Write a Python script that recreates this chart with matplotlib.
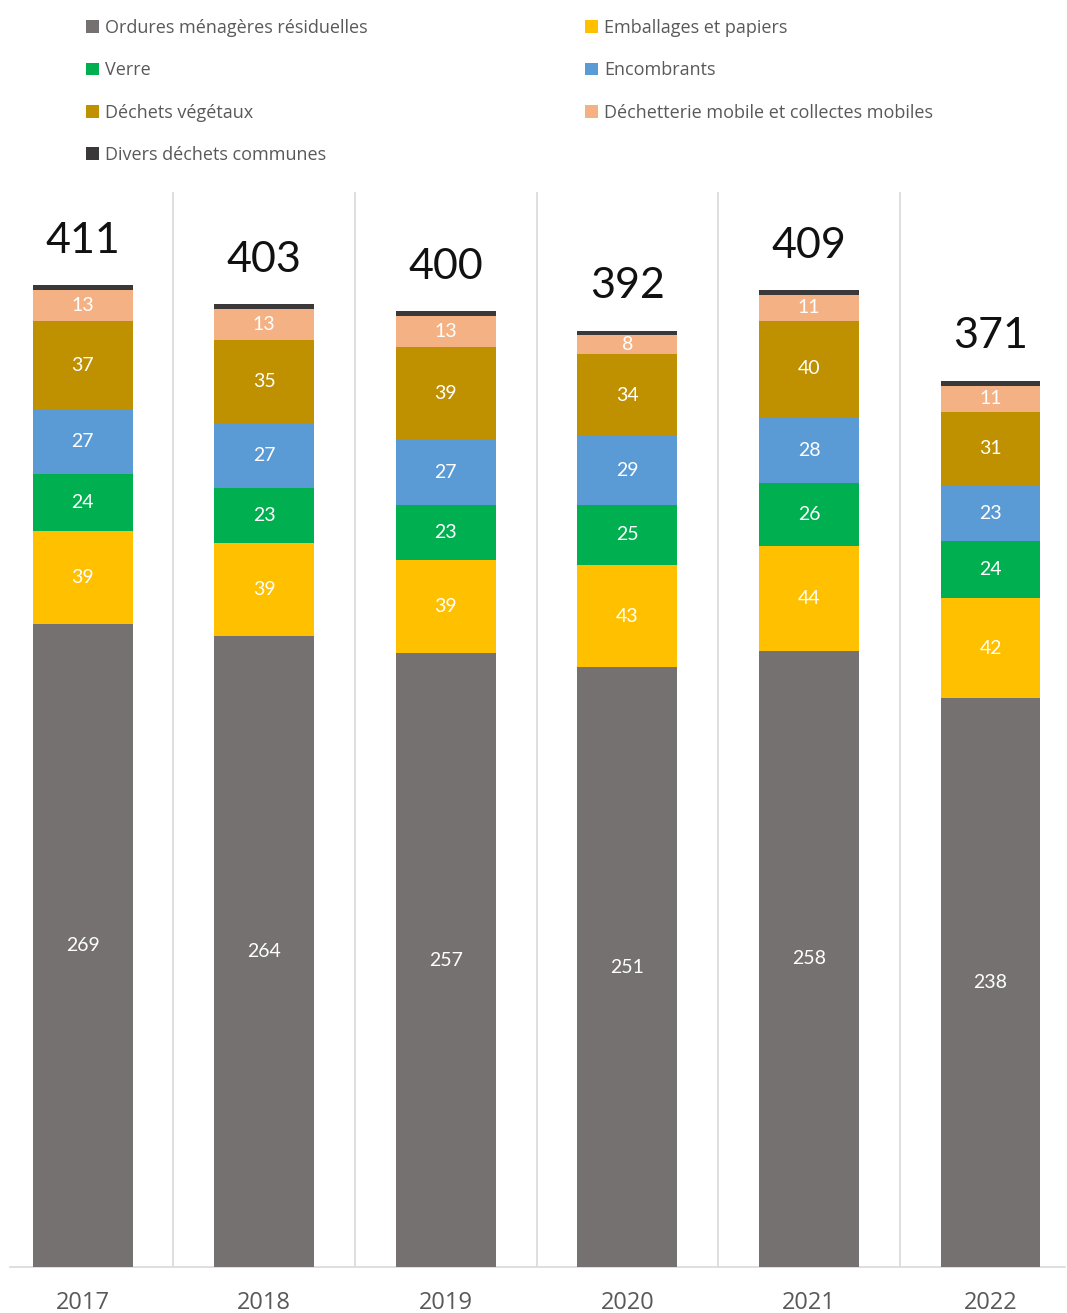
import matplotlib
matplotlib.use("Agg")
import matplotlib.pyplot as plt
from matplotlib.patches import Patch
import numpy as np

years = ["2017", "2018", "2019", "2020", "2021", "2022"]
categories = [
    "Ordures ménagères résiduelles",
    "Emballages et papiers",
    "Verre",
    "Encombrants",
    "Déchets végétaux",
    "Déchetterie mobile et collectes mobiles",
    "Divers déchets communes",
]
ordures = [269, 264, 257, 251, 258, 238]
emballages = [39, 39, 39, 43, 44, 42]
verre = [24, 23, 23, 25, 26, 24]
encombrants = [27, 27, 27, 29, 28, 23]
vegetaux = [37, 35, 39, 34, 40, 31]
dechetterie = [13, 13, 13, 8, 11, 11]
divers = [2, 2, 2, 2, 2, 2]
totals = [411, 403, 400, 392, 409, 371]

series = [ordures, emballages, verre, encombrants, vegetaux, dechetterie, divers]
colors = ["#767171", "#FFC000", "#00B050", "#5B9BD5", "#BF9000", "#F4B183", "#3A3838"]
show_labels = [True, True, True, True, True, True, False]

plt.rcParams['font.family'] = ['Lato', 'DejaVu Sans']

fig = plt.figure(figsize=(10.67, 13.13), dpi=100)
ax = fig.add_axes([10/1067, 46/1313, 1055/1067, 1075/1313])

x = np.arange(len(years))
bottom = np.zeros(len(years))
for vals, col, lab in zip(series, colors, show_labels):
    v = np.array(vals, dtype=float)
    ax.bar(x, v, bottom=bottom, width=0.55, color=col, edgecolor='none', zorder=3)
    if lab:
        for xi, b, h in zip(x, bottom, v):
            ax.text(xi, b + h / 2, f"{int(h)}", ha='center', va='center',
                    color='white', fontsize=14, zorder=4)
    bottom += v

for xi, t, top in zip(x, totals, bottom):
    ax.annotate(f"{t}", (xi, top), xytext=(0, 32), textcoords='offset points',
                ha='center', va='center', fontsize=31, color='#111111', zorder=4)

for k in range(len(years) - 1):
    ax.axvline(k + 0.5, color='#D9D9D9', lw=1.2, zorder=1)

ax.set_xlim(-0.40, 5.41)
ax.set_ylim(0, 450)
ax.set_xticks(x)
ax.set_xticklabels(years, fontsize=17, color='#595959', family=['Open Sans', 'DejaVu Sans'])
ax.tick_params(axis='x', length=0, pad=17)
ax.set_yticks([])
for s in ['top', 'right', 'left']:
    ax.spines[s].set_visible(False)
ax.spines['bottom'].set_color('#D9D9D9')
ax.spines['bottom'].set_linewidth(1.2)

handles = [Patch(facecolor=c, edgecolor='none') for c in colors]
left_idx = [0, 2, 4, 6]
right_idx = [1, 3, 5]
leg_kw = dict(frameon=False, handlelength=0.7, handleheight=0.7,
              handletextpad=0.35, labelspacing=1.35, labelcolor='#595959',
              loc='upper left', borderaxespad=0, borderpad=0,
              prop={'family': ['Open Sans', 'DejaVu Sans'], 'size': 13})
fig.legend([handles[i] for i in left_idx], [categories[i] for i in left_idx],
           bbox_to_anchor=(86/1067, 1 - 19/1313), **leg_kw)
fig.legend([handles[i] for i in right_idx], [categories[i] for i in right_idx],
           bbox_to_anchor=(585/1067, 1 - 19/1313), **leg_kw)

fig.savefig("out.png", dpi=100, facecolor='white')
